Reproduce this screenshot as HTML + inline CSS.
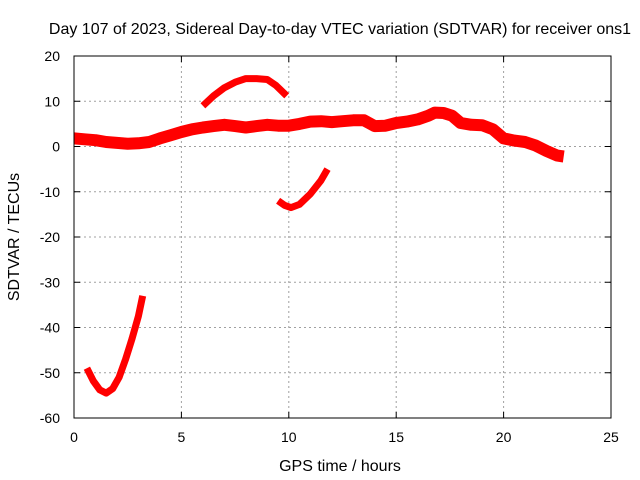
<!DOCTYPE html>
<html><head><meta charset="utf-8"><style>
body{margin:0;background:#fff;}
svg{display:block;font-family:"Liberation Sans",sans-serif;}
</style></head><body>
<svg id="chart" width="640" height="480" viewBox="0 0 640 480">
<rect width="640" height="480" fill="#fff"/>
<g id="grid"></g>
<g id="series"></g>
<g id="axes"></g>
<text x="340" y="34" font-size="16" text-anchor="middle">Day 107 of 2023, Sidereal Day-to-day VTEC variation (SDTVAR) for receiver ons1</text>
<text x="340" y="471" font-size="16" text-anchor="middle">GPS time / hours</text>
<text transform="translate(19,237) rotate(-90)" font-size="16" text-anchor="middle">SDTVAR / TECUs</text>
</svg>
<script>
const xTicks=[0,5,10,15,20,25];
const yTicks=[20,10,0,-10,-20,-30,-40,-50,-60];
const mainX=[0,0.5,1,1.5,2,2.5,3,3.5,4,4.5,5,5.5,6,6.5,7,7.5,8,8.5,9,9.5,10,10.5,11,11.5,12,12.5,13,13.5,14,14.5,15,15.5,16,16.5,16.8,17.2,17.6,18,18.5,19,19.5,20,20.5,21,21.5,22,22.5,22.8];
const mainY=[1.8,1.6,1.4,1.0,0.8,0.6,0.7,1.0,1.8,2.5,3.2,3.8,4.2,4.5,4.8,4.5,4.2,4.5,4.8,4.6,4.6,5.0,5.5,5.6,5.4,5.6,5.8,5.8,4.5,4.6,5.2,5.5,6.0,6.8,7.5,7.4,6.8,5.2,4.8,4.7,3.8,1.8,1.3,1.0,0.2,-1.0,-2.0,-2.2];
const arcX=[6,6.5,7,7.5,8,8.5,9,9.4,9.9];
const arcY=[9,11.2,13,14.2,15,15,14.8,13.5,11.2];
const dipX=[9.5,9.8,10.1,10.5,11,11.5,11.8];
const dipY=[-12,-13,-13.5,-12.8,-10.5,-7.5,-5];
const lowX=[0.6,0.9,1.2,1.5,1.8,2.1,2.4,2.7,3.0,3.2];
const lowY=[-49,-51.8,-53.8,-54.5,-53.5,-51,-47,-42.5,-37.5,-33];
const X0=74,X1=611,Y0=418,Y1=56;
const sx=v=>X0+(v-0)/25*(X1-X0);
const sy=v=>Y0-(v+60)/80*(Y0-Y1);
const NS="http://www.w3.org/2000/svg";
function mk(tag,attrs,parent){const e=document.createElementNS(NS,tag);for(const k in attrs)e.setAttribute(k,attrs[k]);parent.appendChild(e);return e;}
const grid=document.getElementById('grid'),axes=document.getElementById('axes'),series=document.getElementById('series');
xTicks.forEach(t=>{
  if(t>0&&t<25){const g=mk('line',{x1:sx(t),x2:sx(t),y1:Y1,y2:Y0,stroke:'#a0a0a0','stroke-dasharray':'2,3'},grid);
  
  }
  const l=mk('text',{x:sx(t),y:Y0+24,'font-size':14,'text-anchor':'middle'},axes);l.textContent=t;
  
  
  mk('line',{x1:sx(t),x2:sx(t),y1:Y0,y2:Y0-6,stroke:'#000'},axes);
  mk('line',{x1:sx(t),x2:sx(t),y1:Y1,y2:Y1+6,stroke:'#000'},axes);
});
yTicks.forEach(t=>{
  if(t<20&&t>-60){const g=mk('line',{x1:X0,x2:X1,y1:sy(t),y2:sy(t),stroke:'#a0a0a0','stroke-dasharray':'2,3'},grid);
  
  }
  const l=mk('text',{x:X0-14,y:sy(t)+5,'font-size':14,'text-anchor':'end'},axes);l.textContent=t;
  
  
  mk('line',{x1:X0,x2:X0+6,y1:sy(t),y2:sy(t),stroke:'#000'},axes);
  mk('line',{x1:X1,x2:X1-6,y1:sy(t),y2:sy(t),stroke:'#000'},axes);
});
const fr=mk('rect',{x:X0,y:Y1,width:X1-X0,height:Y0-Y1,fill:'none',stroke:'#000'},axes);


function draw(xs,ys,w,name){
  const p=xs.map((x,i)=>sx(x).toFixed(1)+','+sy(ys[i]).toFixed(1)).join(' ');
  const el=mk('polyline',{points:p,fill:'none',stroke:'#ff0000','stroke-width':w,'stroke-linejoin':'round','stroke-linecap':'butt'},series);
  
  
}
draw(mainX,mainY,12,'series-main-band');
draw(arcX,arcY,7,'series-arc');
draw(dipX,dipY,7,'series-dip');
draw(lowX,lowY,7,'series-low');
</script>
</body></html>
